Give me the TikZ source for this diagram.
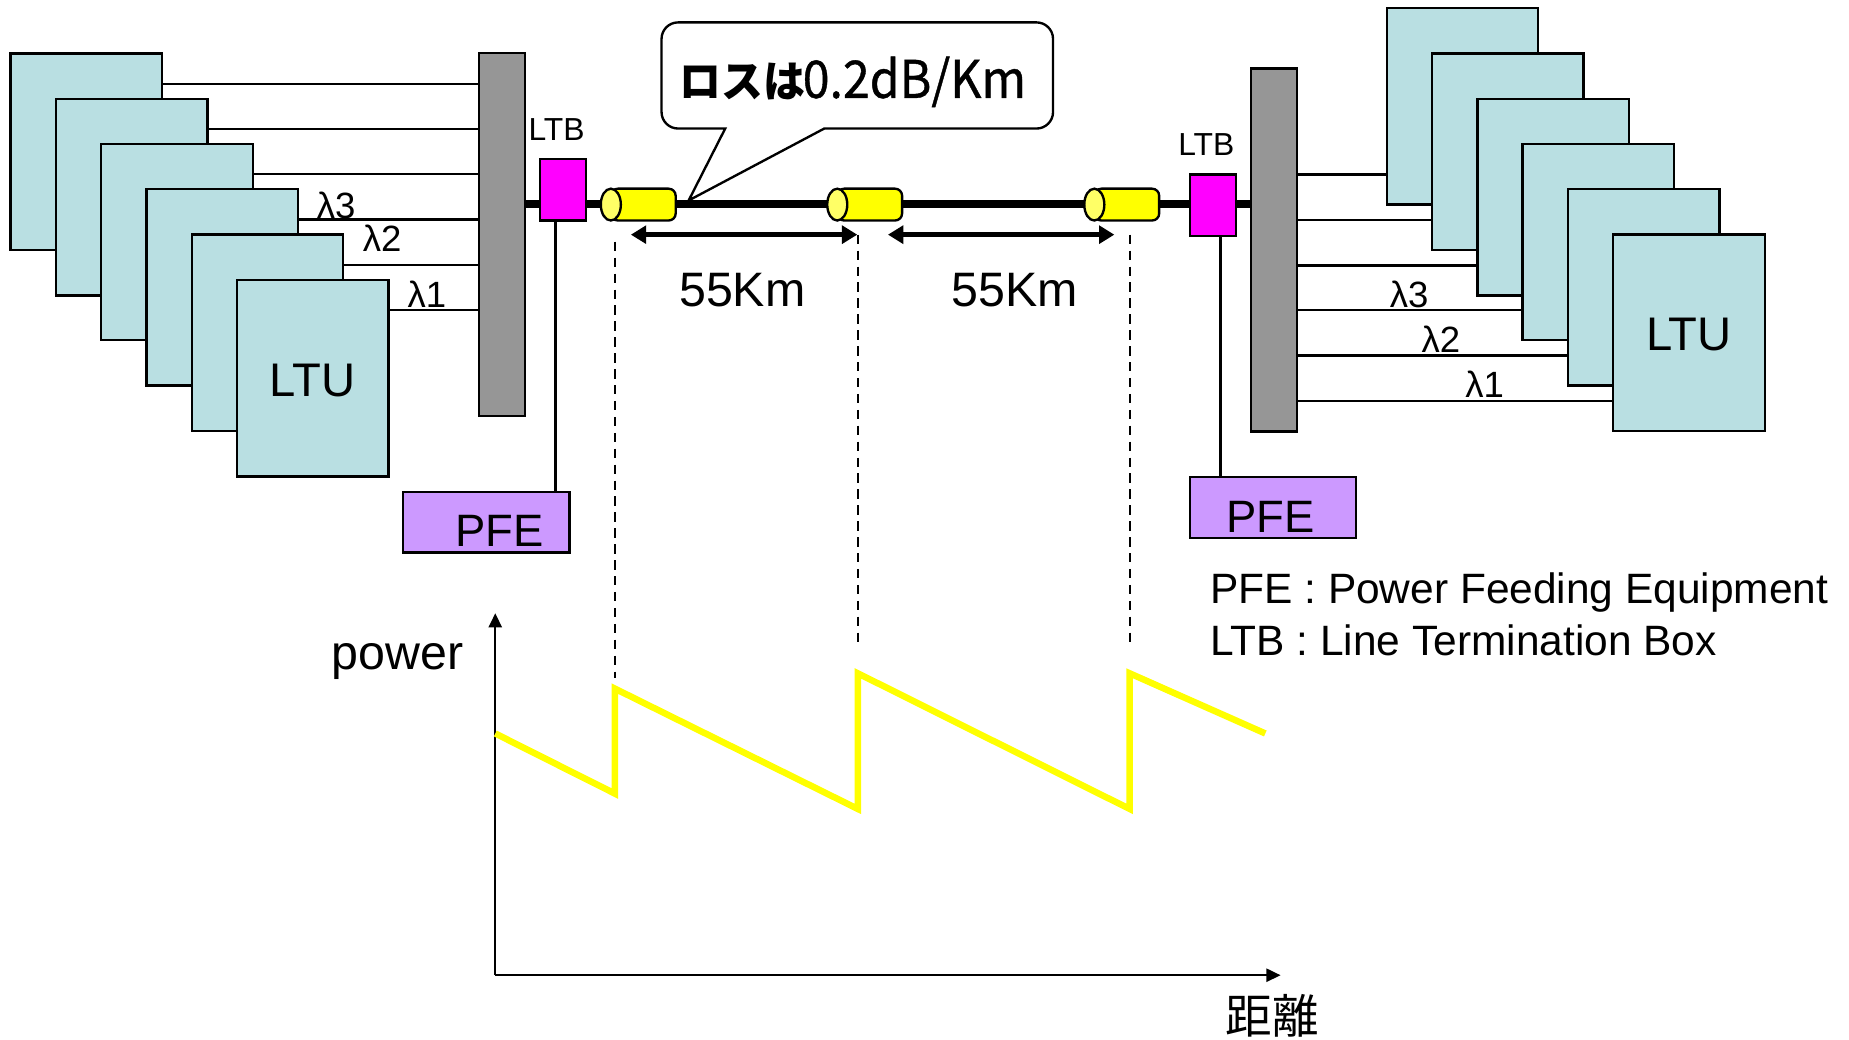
\documentclass[tikz,border=0pt]{standalone}
\usepackage{fontspec}
\usepackage{graphicx}
\setmainfont{Liberation Sans}
\newfontfamily\jpfont{Noto Sans CJK JP}
\newfontfamily\jplat[FakeBold=0.8]{Noto Sans CJK JP}
\usetikzlibrary{arrows.meta}
\definecolor{ltucol}{HTML}{B9DFE2}
\definecolor{barcol}{HTML}{969696}
\definecolor{pfecol}{HTML}{CC99FF}
\definecolor{lampcol}{HTML}{FFFF66}
\definecolor{purey}{HTML}{FFFF00}
\definecolor{purem}{HTML}{FF00FF}
\tikzset{
  basebox/.style={draw=black,line width=2pt,inner sep=0pt,outer sep=0pt,anchor=north west},
  ltubox/.style={basebox,fill=ltucol,minimum width=128.5pt,minimum height=166.5pt,font=\fontsize{40}{40}\selectfont},
  barbox/.style={basebox,fill=barcol,minimum width=39pt,minimum height=308pt},
  ltbbox/.style={basebox,fill=purem,minimum width=39pt,minimum height=52pt},
  pfebox/.style={basebox,fill=pfecol,minimum width=141pt,minimum height=51.5pt,font=\fontsize{38.5}{38.5}\selectfont},
  thin line/.style={draw=black,line width=2pt},
  fibre/.style={draw=black,line width=6pt},
  span/.style={draw=black,line width=4.2pt,{Triangle[length=13pt,width=15pt]}-{Triangle[length=13pt,width=15pt]}},
  guide/.style={draw=black,line width=1.8pt,dash pattern=on 8pt off 5.5pt},
  axis/.style={draw=black,line width=2pt,-{Triangle[length=12pt,width=11pt]}},
  lam/.style={font=\fontsize{31}{31}\selectfont,inner sep=0pt},
  lbl/.style={font=\fontsize{41}{41}\selectfont,inner sep=0pt},
  ltblabel/.style={font=\fontsize{27}{27}\selectfont,inner sep=0pt},
  amp/.style={inner sep=0pt,outer sep=0pt,minimum width=64pt,minimum height=27pt},
}
\newcommand{\amplifier}[3]{% name, x, y (top)
  \node[amp,anchor=north west] (#1) at (#2,#3) {};
  \draw[line width=2pt,fill=purey,rounded corners=6pt]
    ([xshift=9pt]#1.north west) -- (#1.north east) -- (#1.south east) -- ([xshift=9pt]#1.south west) -- cycle;
  \draw[line width=2pt,fill=lampcol] ([xshift=9pt]#1.west) ellipse [x radius=8.5pt,y radius=13.5pt];
}
\begin{document}
\begin{tikzpicture}[x=1pt,y=-1pt]
\useasboundingbox (0,0) rectangle (1568,881.1);
% bars
\node[barbox] (LB) at (406,45) {};
\node[barbox] (RB) at (1061,58) {};
% fibre
\coordinate (fa) at (445,173);
\draw[fibre] (fa) -- (fa -| RB.west);
% left LTU stack
\node[ltubox] (L1) at (9,45.5) {};
\node[ltubox] (L2) at (47.4,84) {};
\node[ltubox] (L3) at (85.8,122) {};
\node[ltubox] (L4) at (124.2,160.5) {};
\node[ltubox] (L5) at (162.6,199) {};
\node[ltubox] (L6) at (201,237.5) {\raisebox{-15.5pt}[0pt][0pt]{LTU}};
\foreach \n in {1,...,6}{
  \coordinate (a\n) at ([yshift=-25.5pt]L\n.north east);
  \draw[thin line] (a\n) -- (a\n -| LB.west);
}
% right LTU stack
\node[ltubox] (R1) at (1176,7) {};
\node[ltubox] (R2) at (1214.4,45.5) {};
\node[ltubox] (R3) at (1252.8,84) {};
\node[ltubox] (R4) at (1291.2,122) {};
\node[ltubox] (R5) at (1329.6,160.5) {};
\node[ltubox] (R6) at (1368,199) {\raisebox{-15pt}[0pt][0pt]{LTU}};
\foreach \n in {1,...,6}{
  \coordinate (b\n) at ([yshift=25.5pt]R\n.south west);
  \draw[thin line] (b\n) -- (b\n -| RB.east);
}
\node[lam,anchor=base] at (285,185) {λ3};
\node[lam,anchor=base] at (324,213) {λ2};
\node[lam,anchor=base] at (362,261) {λ1};
\node[lam,anchor=base] at (1195,261) {λ3};
\node[lam,anchor=base] at (1222,299) {λ2};
\node[lam,anchor=base] at (1259,337) {λ1};
% LTB / PFE
\node[ltbbox] (LT) at (458,135) {};
\node[ltbbox] (RT) at (1009,148) {};
\node[ltblabel,anchor=base] at (472,119) {LTB};
\node[ltblabel,anchor=base] at (1023,132) {LTB};
\node[pfebox] (LP) at (342,417) {\hspace*{22pt}\raisebox{-21pt}[0pt][0pt]{PFE}};
\node[pfebox] (RP) at (1009,404.5) {\hspace*{-4pt}\raisebox{-21pt}[0pt][0pt]{PFE}};
\coordinate (lc) at ([xshift=13pt]LT.south west);
\coordinate (rc) at ([xshift=26pt]RP.north west);
\draw[thin line] (lc) -- (lc |- LP.north);
\draw[thin line] (rc) -- (rc |- RT.south);
% amplifiers
\amplifier{A1}{509}{160}
\amplifier{A2}{701}{160}
\amplifier{A3}{919}{160}
% callout
\draw[line width=2pt,fill=white,line join=miter]
  (575,19) -- (879,19) arc[start angle=90,end angle=0,radius=14pt]
  -- (893,95) arc[start angle=0,end angle=-90,radius=14pt]
  -- (699,109) -- (584,170) -- (615,109) -- (575,109)
  arc[start angle=-90,end angle=-180,radius=14pt]
  -- (561,33) arc[start angle=180,end angle=90,radius=14pt] -- cycle;
\node[inner sep=0pt,anchor=base west] (CT) at (576,83)
  {\jpfont\fontsize{37}{37}\selectfont\scalebox{0.96}[1]{\bfseries ロスは}\hspace*{-2pt}\scalebox{0.93}[1]{\jplat\fontsize{44}{44}\selectfont 0.2dB/Km}};
% spans
\coordinate (s1) at (535,199); \coordinate (s2) at (727,199);
\coordinate (s3) at (753,199); \coordinate (s4) at (945,199);
\draw[span] (s1) -- (s2);
\draw[span] (s3) -- (s4);
\node[lbl,anchor=base] at (629.5,260) {55Km};
\node[lbl,anchor=base] at (860.5,260) {55Km};
% guides
\coordinate (g1) at (521.5,205); \coordinate (g2) at (727.5,199); \coordinate (g3) at (958,199);
\draw[guide] (g1) -- (g1 |- 0,575);
\draw[guide] (g2) -- (g2 |- 0,545);
\draw[guide] (g3) -- (g3 |- 0,545);
% legend
\node[inner sep=0pt,anchor=base west,font=\fontsize{36}{36}\selectfont] at (1026,512) {PFE : Power Feeding Equipment};
\node[inner sep=0pt,anchor=base west,font=\fontsize{36}{36}\selectfont] at (1026,556) {LTB : Line Termination Box};
% graph
\coordinate (O) at (420,827);
\draw[axis] (O) -- (O |- 0,520);
\draw[axis] (O) -- (1086,827);
\node[lbl,anchor=base,font=\fontsize{41}{41}\selectfont] at (337,568) {power};
\node[inner sep=0pt,anchor=base,font=\jpfont\fontsize{39.5}{39.5}\selectfont] at (1079,876) {距離};
\draw[purey,line width=5.5pt,line join=miter]
  (420,622) -- (521.5,673) -- (521.5,584) -- (727.5,686) -- (727.5,571) -- (958,686) -- (958,571) -- (1073,622);
\end{tikzpicture}
\end{document}
